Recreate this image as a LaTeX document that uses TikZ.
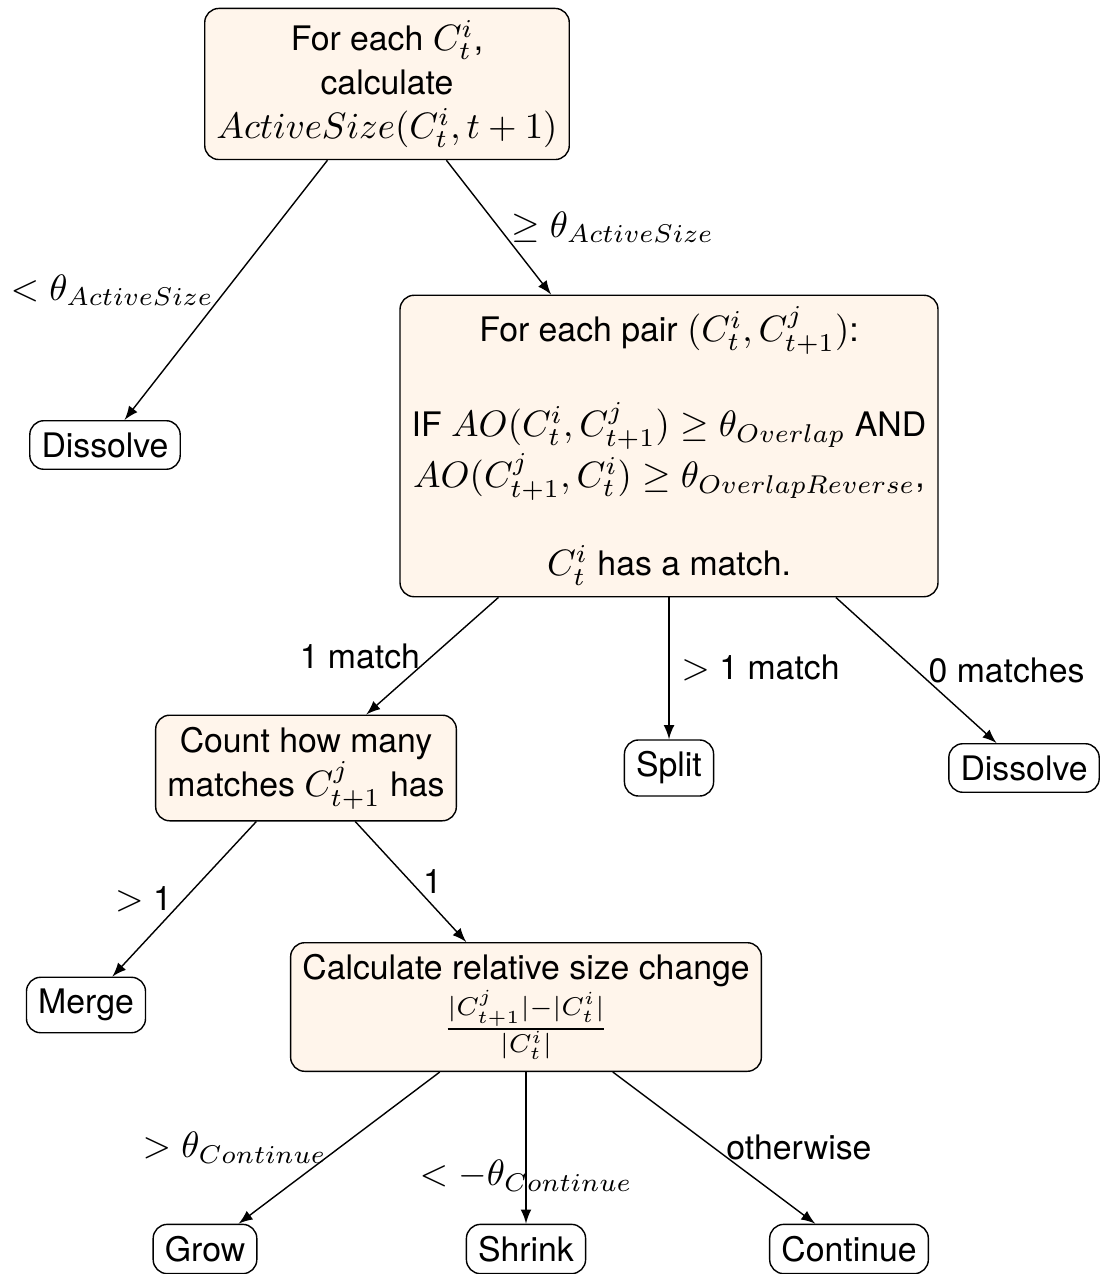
\RequirePackage{fix-cm}
\documentclass[tikz,border=0pt]{standalone}
\usepackage{amsmath,amssymb}
\usepackage[no-math]{fontspec}
\setsansfont{TeX Gyre Heros}[Scale=0.92]
\usetikzlibrary{arrows.meta, positioning}

\begin{document}
\begin{tikzpicture}[
  every node/.style={font=\fontsize{10.45}{12.54}\selectfont\sffamily},
  box/.style={draw, rounded corners, fill=orange!8, align=center},
  leaf/.style={draw, rounded corners},
  >=latex
]
\useasboundingbox (0,0) rectangle (11.11,-12.74);

% First test: active size
\node[box] (start) at (3.87,-0.84) {For each $C_t^i$,\\ calculate\\ $ActiveSize(C_t^i, t+1)$};
\node[leaf] (dissA) at (1.05,-4.45) {Dissolve};
\node[box] (pair) at (6.69,-4.46) {For each pair $(C_t^i, C_{t+1}^j)$:\\[\baselineskip]
  IF $AO(C_t^i, C_{t+1}^j) \geq \theta_{Overlap}$ AND\\
  $AO(C_{t+1}^j, C_t^i) \geq \theta_{OverlapReverse}$,\\[\baselineskip]
  $C_t^i$ has a match.};

\draw[->] (start) -- (dissA) node[midway,left] {$<\theta_{ActiveSize}$};
\draw[->] (start) -- (pair) node[midway,right] {$\geq\theta_{ActiveSize}$};

% Matches
\node[box] (count) at (3.06,-7.68) {Count how many\\ matches $C_{t+1}^j$ has};
\node[leaf] (split) at (6.69,-7.68) {Split};
\node[leaf] (dissB) at (10.24,-7.68) {Dissolve};

\draw[->] (pair) -- (count) node[midway,left] {1 match};
\draw[->] (pair) -- (split) node[midway,right] {$>$ 1 match};
\draw[->] (pair) -- (dissB) node[midway,right] {0 matches};

% Size change
\node[leaf] (merge) at (0.86,-10.05) {Merge};
\node[box] (size) at (5.26,-10.07) {Calculate relative size change\\ $\frac{|C_{t+1}^j|-|C_t^i|}{|C_t^i|}$};

\draw[->] (count) -- (merge) node[midway,left] {$>$ 1};
\draw[->] (count) -- (size) node[midway,right] {1};

\node[leaf] (grow) at (2.05,-12.49) {Grow};
\node[leaf] (shrink) at (5.26,-12.49) {Shrink};
\node[leaf] (cont) at (8.49,-12.49) {Continue};

\draw[->] (size) -- (grow) node[midway,left] {$>\theta_{Continue}$};
\draw[->] (size) -- (shrink) node[midway,below] {$<-\theta_{Continue}$};
\draw[->] (size) -- (cont) node[midway,right] {otherwise};
\end{tikzpicture}
\end{document}
